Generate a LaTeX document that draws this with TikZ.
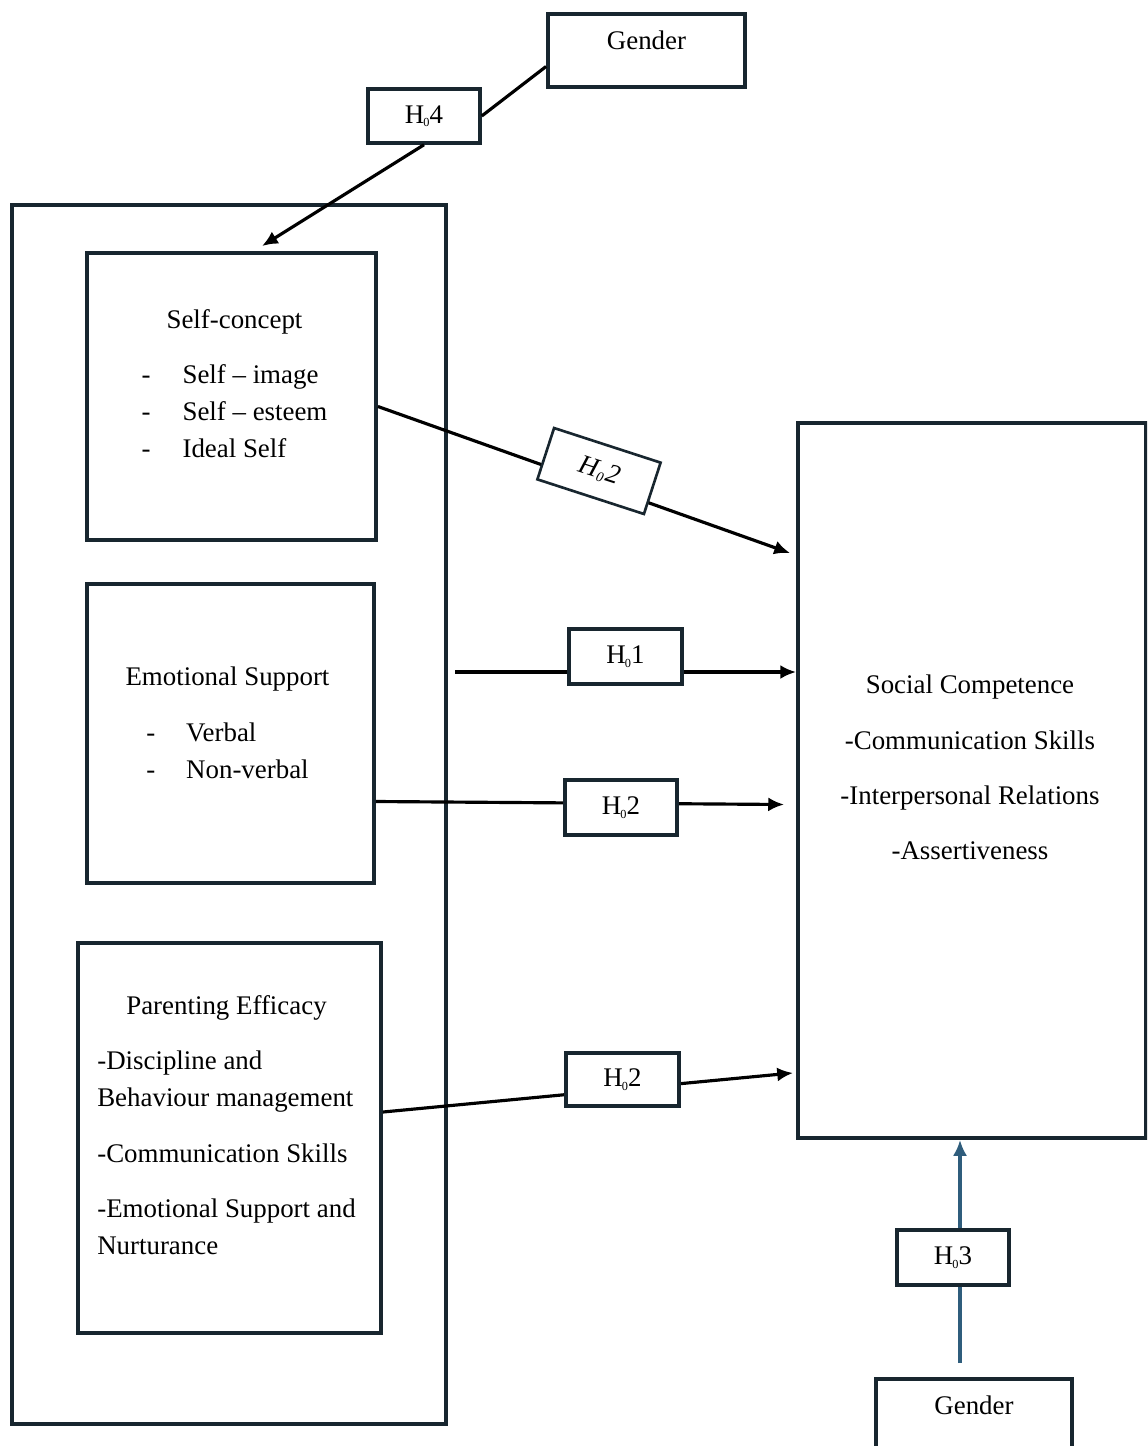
\documentclass[tikz,border=0pt]{standalone}
\usepackage{fontspec}
\setmainfont{Liberation Serif}
\usetikzlibrary{positioning,arrows.meta}
\definecolor{boxline}{HTML}{18262F}
\definecolor{hblue}{HTML}{2F5D7C}
\newcommand{\hnull}{H\kern-0.5pt\raisebox{-2pt}{\fontsize{7}{7}\selectfont 0}}

\begin{document}
\begin{tikzpicture}[font=\fontsize{15.3}{21}\selectfont, >={Latex[length=9pt,width=8pt]},
  box/.style={draw=boxline,line width=2.2pt,rectangle,inner sep=0pt},
  hbox/.style={draw=boxline,line width=2pt,fill=white,rectangle,inner sep=0pt,minimum width=2.24cm,minimum height=1.08cm},
  conn/.style={draw=black,line width=1.8pt},
  txt/.style={align=center,inner sep=0pt}]
  \useasboundingbox (0,0) rectangle (22.94,-28.92);
  \clip (0,0) rectangle (22.94,-28.92);

  % left column
  \node[box,minimum width=8.68cm,minimum height=24.38cm] (outer) at (4.58,-16.29) {};
  \node[box,minimum width=5.78cm,minimum height=5.74cm] (self) at (4.63,-7.93) {};
  \node[box,minimum width=5.74cm,minimum height=5.98cm] (emo) at (4.61,-14.67) {};
  \node[box,minimum width=6.06cm,minimum height=7.80cm] (par) at (4.59,-22.76) {};

  \node[txt] (selftxt) at ([xshift=0.06cm,yshift=0.22cm]self.center) {\begin{tabular}{@{}c@{}}Self-concept\\[10.5pt]
    \begin{tabular}{@{}l@{\hspace{0.64cm}}l@{}}-&Self -- image\\-&Self -- esteem\\-&Ideal Self\end{tabular}\end{tabular}};
  \node[txt] (emotxt) at ([xshift=-0.06cm,yshift=0.18cm]emo.center) {\begin{tabular}{@{}c@{}}Emotional Support\\[10.5pt]
    \begin{tabular}{@{}l@{\hspace{0.62cm}}l@{}}-&Verbal\\-&Non-verbal\end{tabular}\end{tabular}};
  \node[txt] (partxt) at ([xshift=-0.06cm,yshift=0.22cm]par.center) {\begin{tabular}{@{}l@{}}\multicolumn{1}{@{}c@{}}{Parenting Efficacy}\\[10.5pt]
    -Discipline and\\Behaviour management\\[10.5pt]-Communication Skills\\[10.5pt]-Emotional Support and\\Nurturance\end{tabular}};

  % right side
  \node[box,minimum width=6.96cm,minimum height=14.30cm] (soc) at (19.44,-15.61) {};
  \node[txt] (soctxt) at ([xshift=-0.04cm,yshift=0.22cm]soc.center) {\begin{tabular}{@{}c@{}}Social Competence\\[10.5pt]
    -Communication Skills\\[10.5pt]-Interpersonal Relations\\[10.5pt]-Assertiveness\end{tabular}};

  \node[box,minimum width=3.94cm,minimum height=1.46cm] (gtop) at (12.93,-1.01) {};
  \node[txt] (gtoptxt) at ([yshift=0.21cm]gtop.center) {Gender};
  \node[box,anchor=north,minimum width=3.92cm,minimum height=2.2cm] (gbot) at (19.48,-27.54) {};
  \node[txt] (gbottxt) at ([yshift=-0.56cm]gbot.north) {Gender};

  % gender -> self-concept
  \node[hbox] (h4) at (8.48,-2.32) {\hnull 4};
  \coordinate (selftop) at ([xshift=0.61cm,yshift=0.1cm]self.north);
  \draw[conn] ([yshift=-0.32cm]gtop.west) -- (h4.east);
  \draw[conn,->] (h4.south) -- (selftop);

  % predictors -> social competence
  \draw[conn,->] ([yshift=-0.2cm]self.east) -- ([xshift=-0.12cm,yshift=-2.64cm]soc.north west);
  \node[hbox,line width=1.5pt,rotate=-18] (h2a) at (11.98,-9.42) {\textit{H\kern0.6pt\raisebox{-2pt}{\fontsize{8}{8}\selectfont 0}\kern0.6pt 2}};

  \coordinate (h1in) at (9.1,-13.44);
  \draw[conn,->] (h1in) -- (h1in -| soc.west);
  \node[hbox,minimum width=2.26cm,minimum height=1.1cm] (h1) at (12.51,-13.13) {\hnull 1};

  \draw[conn,->] ([yshift=-1.36cm]emo.east) -- ([xshift=-0.24cm,yshift=-0.48cm]soc.west);
  \node[hbox,minimum height=1.1cm] (h2b) at (12.42,-16.15) {\hnull 2};

  \draw[conn,->] ([yshift=0.52cm]par.east) -- ([xshift=-0.06cm,yshift=1.34cm]soc.south west);
  \node[hbox,minimum width=2.26cm,minimum height=1.06cm] (h2c) at (12.45,-21.59) {\hnull 2};

  % gender -> social competence
  \coordinate (h3in) at ([xshift=-0.28cm,yshift=0.28cm]gbot.north);
  \draw[conn,draw=hblue,->] (h3in) -- (h3in |- soc.south);
  \node[hbox,minimum height=1.1cm] (h3) at (19.06,-25.15) {\hnull 3};

\end{tikzpicture}
\end{document}
